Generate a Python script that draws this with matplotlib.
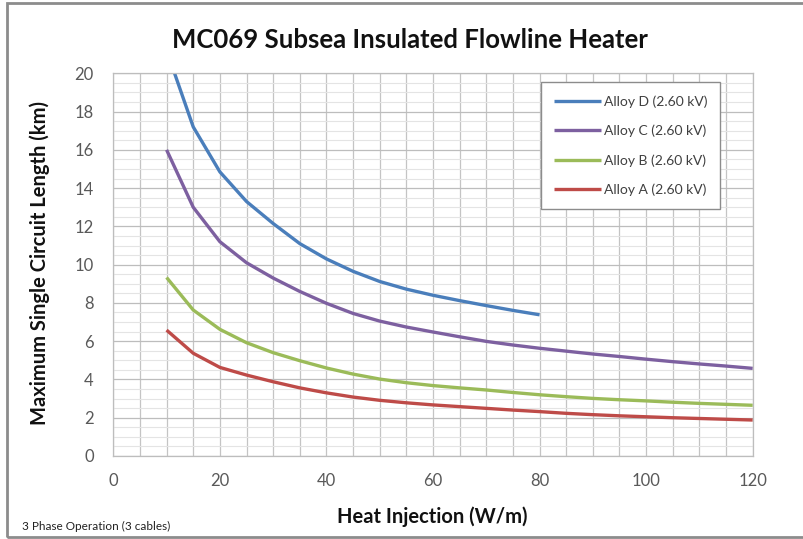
import matplotlib as mplt
mplt.use("Agg")
import matplotlib.pyplot as plt
from matplotlib.patches import Rectangle
from matplotlib.ticker import MultipleLocator

# values (Heat Injection W/m -> length km)
heat_d = [10, 15, 20, 25, 30, 35, 40, 45, 50, 55, 60, 65, 70, 75, 80]
alloy_d = [21.2, 17.2, 14.85, 13.3, 12.15, 11.1, 10.3, 9.65, 9.12, 8.72, 8.4, 8.12, 7.86, 7.61, 7.38]

heat = [10, 15, 20, 25, 30, 35, 40, 45, 50, 55, 60, 65, 70, 75, 80,
        85, 90, 95, 100, 105, 110, 115, 120]
alloy_c = [16.0, 13.0, 11.2, 10.1, 9.3, 8.6, 7.98, 7.45, 7.05, 6.74, 6.48, 6.23,
           5.99, 5.8, 5.63, 5.48, 5.33, 5.2, 5.06, 4.93, 4.81, 4.7, 4.58]
alloy_b = [9.33, 7.63, 6.62, 5.92, 5.4, 4.98, 4.6, 4.28, 4.02, 3.83, 3.68, 3.56,
           3.45, 3.32, 3.2, 3.1, 3.01, 2.94, 2.88, 2.81, 2.75, 2.7, 2.65]
alloy_a = [6.58, 5.37, 4.63, 4.23, 3.88, 3.56, 3.3, 3.08, 2.91, 2.78, 2.67, 2.58,
           2.49, 2.4, 2.32, 2.23, 2.16, 2.1, 2.05, 2.0, 1.96, 1.92, 1.88]

series = [
    ("Alloy D (2.60 kV)", heat_d, alloy_d, "#4A7EBB"),
    ("Alloy C (2.60 kV)", heat, alloy_c, "#7D60A0"),
    ("Alloy B (2.60 kV)", heat, alloy_b, "#9BBB59"),
    ("Alloy A (2.60 kV)", heat, alloy_a, "#BE4B48"),
]

plt.rcParams["font.family"] = ["Lato", "DejaVu Sans"]

fig = plt.figure(figsize=(8.04, 5.39), dpi=100)
ax = fig.add_axes([113.3 / 804, 1 - 456 / 539, (752.7 - 113.3) / 804, (456 - 73.3) / 539])

# outer chart frame
fig.patches.append(Rectangle((7 / 804, 1 - 537 / 539), 1.0, (537 - 3) / 539,
                             transform=fig.transFigure, fill=False,
                             edgecolor="#8c8c8c", linewidth=2, clip_on=False))

for label, x, y, color in series:
    ax.plot(x, y, color=color, linewidth=2.4, label=label,
            solid_capstyle="butt", solid_joinstyle="round")

ax.set_xlim(0, 120)
ax.set_ylim(0, 20)
ax.xaxis.set_major_locator(MultipleLocator(20))
ax.xaxis.set_minor_locator(MultipleLocator(5))
ax.yaxis.set_major_locator(MultipleLocator(2))
ax.yaxis.set_minor_locator(MultipleLocator(0.5))
ax.grid(which="major", axis="y", color="#bdbdbd", linewidth=0.9)
ax.grid(which="minor", axis="y", color="#e4e4e4", linewidth=0.8)
ax.grid(which="both", axis="x", color="#c4c4c4", linewidth=0.9)
ax.set_axisbelow(True)
for side in ["left", "bottom", "top", "right"]:
    ax.spines[side].set_color("#bdbdbd")
    ax.spines[side].set_linewidth(0.9)
ax.tick_params(which="both", length=0)
ax.tick_params(axis="y", pad=14, labelsize=12, labelcolor="#595959")
ax.tick_params(axis="x", pad=12, labelsize=12, labelcolor="#595959")

fig.text(0.51, 1 - 40 / 539, "MC069 Subsea Insulated Flowline Heater",
         ha="center", va="center", fontsize=18.5, fontweight="bold", color="#111111")
fig.text(0.538, 1 - 517 / 539, "Heat Injection (W/m)", ha="center", va="center",
         fontsize=14.5, fontweight="bold", color="#111111")
fig.text(40 / 804, 1 - 263 / 539, "Maximum Single Circuit Length (km)", ha="center",
         va="center", rotation=90, fontsize=14.5, fontweight="bold", color="#111111")
fig.text(22 / 804, 1 - 526 / 539, "3 Phase Operation (3 cables)", ha="left",
         va="center", fontsize=8.5, color="#222222")

leg = ax.legend(loc="upper left", bbox_to_anchor=((541 - 113.3) / 639.4, 1 - (82 - 73.3) / 382.7),
                frameon=True, fancybox=False, edgecolor="#8c8c8c", framealpha=1,
                fontsize=10, labelspacing=1.22, handlelength=3.4, handletextpad=0.15,
                borderpad=0.95, borderaxespad=0)
for t in leg.get_texts():
    t.set_color("#404040")
leg.get_frame().set_linewidth(1.0)

fig.savefig("out.png", dpi=100)
